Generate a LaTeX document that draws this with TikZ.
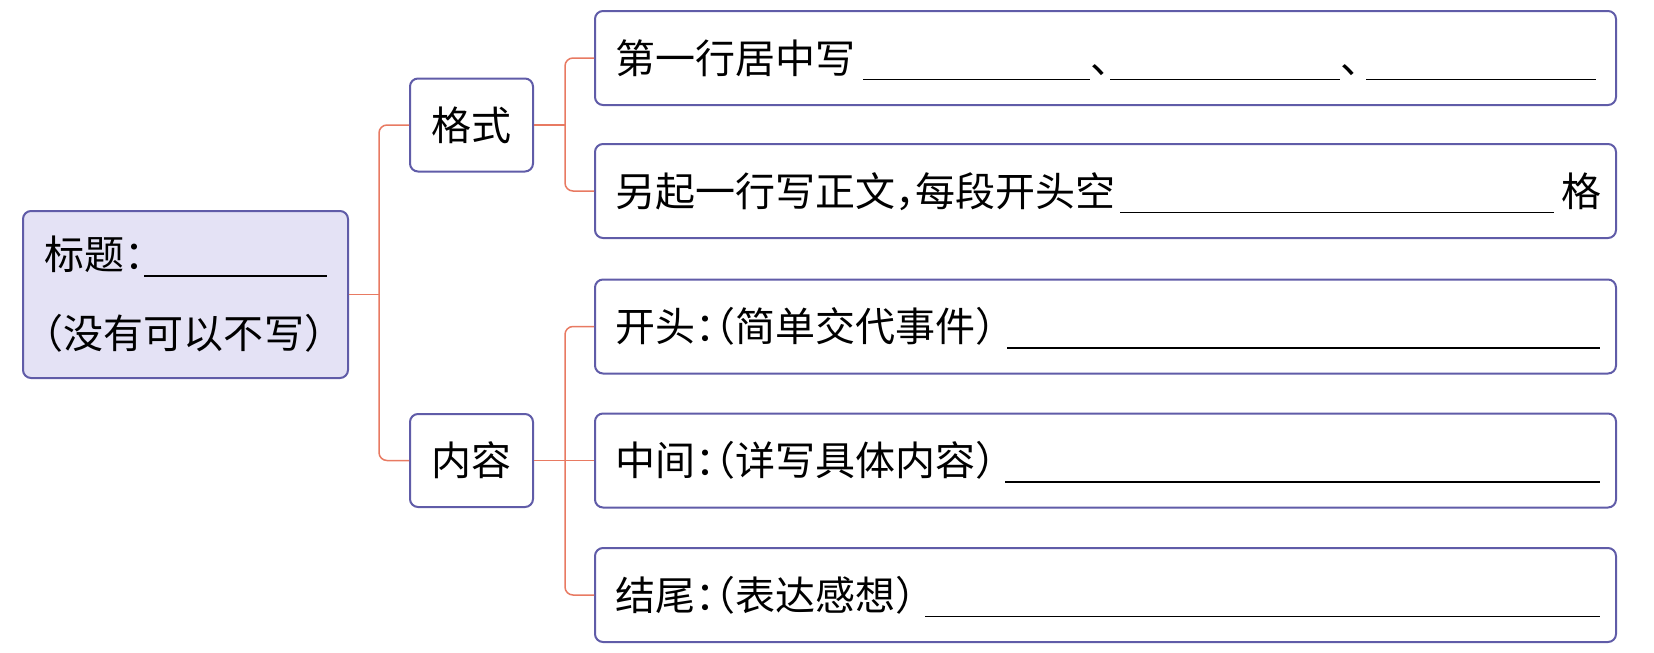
\documentclass[tikz,border=0pt]{standalone}
\usepackage{fontspec}
\setmainfont{Noto Sans CJK SC}[RawFeature=+halt]
\definecolor{boxline}{RGB}{96,92,168}
\definecolor{linkline}{RGB}{232,122,98}
\definecolor{titlefill}{RGB}{228,226,245}
\newcommand{\blank}[1]{\rule[-3.5pt]{#1}{0.7pt}}

\begin{document}
\begin{tikzpicture}[x=0.5pt, y=-0.5pt]
  \tikzstyle{box}=[draw=boxline, line width=1pt, rounded corners=4pt, fill=white, inner sep=0pt,
                   font=\fontsize{20pt}{39.5pt}\selectfont]
  \tikzstyle{title}=[box, fill=titlefill, minimum width=162.5pt, minimum height=83.5pt, align=left]
  \tikzstyle{part}=[box, minimum width=61.5pt, minimum height=46.5pt, text height=15pt, text depth=0pt]
  \tikzstyle{row}=[box, minimum width=510.5pt, minimum height=47pt, inner xsep=10pt,
                   text width=490.5pt, align=left, text height=15pt, text depth=0pt]
  \tikzstyle{link}=[draw=linkline, line width=0.75pt, rounded corners=4pt]

  \useasboundingbox (0,0) rectangle (1654,653);

  \node[title] (title)   at (185.5,  294.5) {标题：\blank{91.5pt}\\（没有可以不写）};
  \node[part]  (geshi)   at (471.5,  125)   {格式};
  \node[part]  (neirong) at (471.5,  460.5) {内容};

  \node[row] (row1) at (1105.5, 58)    {第一行居中写\kern4pt\blank{113.5pt}、\blank{115pt}、\kern3pt\blank{115pt}};
  \node[row] (row2) at (1105.5, 191)   {另起一行写正文，每段开头空\kern2.5pt\blank{217pt}\kern3.5pt 格};
  \node[row] (row3) at (1105.5, 326.5) {开头：（简单交代事件）\kern6pt\blank{296.5pt}};
  \node[row] (row4) at (1105.5, 460.5) {中间：（详写具体内容）\kern5pt\blank{297.5pt}};
  \node[row] (row5) at (1105.5, 595)   {结尾：（表达感想）\kern5pt\blank{337.5pt}};

  \coordinate (hub1) at (379, 294.5);
  \coordinate (hub2) at (565, 125);
  \coordinate (hub3) at (565, 460.5);

  \draw[link] (title.east) -- (hub1);
  \draw[link] (geshi.west) -| (hub1) |- (neirong.west);
  \draw[link] (geshi.east) -- (hub2);
  \draw[link] (row1.west) -| (hub2) |- (row2.west);
  \draw[link] (neirong.east) -- (row4.west);
  \draw[link] (row3.west) -| (hub3) |- (row5.west);
\end{tikzpicture}
\end{document}
